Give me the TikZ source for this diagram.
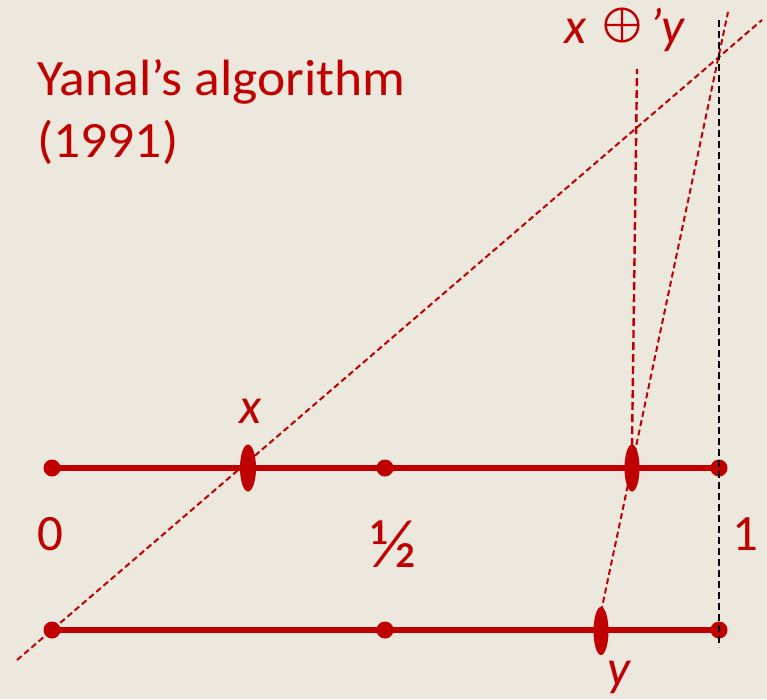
\documentclass[tikz,border=0pt]{standalone}
\usepackage{fontspec}
\setmainfont{Carlito}
\usetikzlibrary{shapes.geometric}
\definecolor{myred}{RGB}{192,0,0}
\definecolor{paper}{RGB}{237,232,221}
\tikzset{
  axisline/.style={draw=myred, line width=6pt},
  dotnode/.style={circle, fill=myred, minimum size=17pt, inner sep=0pt},
  marknode/.style={ellipse, fill=myred, minimum width=16pt, minimum height=47pt, inner sep=0pt},
  reddash/.style={draw=myred, line width=2pt, dash pattern=on 6pt off 3.5pt},
  blackdash/.style={draw=black, line width=2pt, dash pattern=on 7pt off 4pt},
  lbl/.style={text=myred, inner sep=0pt, font=\fontsize{51}{62}\selectfont},
  ilbl/.style={text=myred, inner sep=0pt, font=\fontsize{51}{62}\selectfont\itshape}
}
\begin{document}
\begin{tikzpicture}[x=1pt,y=-1pt]
\fill[paper] (0,0) rectangle (767,699);
\useasboundingbox (0,0) rectangle (767,699);
% coordinates
\coordinate (p0) at (52,468);
\coordinate (ph) at (385,468);
\coordinate (p1) at (719,468);
\coordinate (q0) at (52,630);
\coordinate (qh) at (385,630);
\coordinate (q1) at (719,630);
\coordinate (d1) at (17,660);
\coordinate (d2) at (762,20);
\coordinate (e1) at (601,612);
\coordinate (e2) at (728,12);
\coordinate (s1) at (632,446);
\coordinate (s2) at (637,69);
\coordinate (v1) at (719,20);
\coordinate (v2) at (719,647);
% axes
\draw[axisline] (p0) -- (p1);
\draw[axisline] (q0) -- (q1);
% dashed lines
\draw[reddash] (d1) -- (d2);
\draw[reddash] (e1) -- (e2);
\draw[reddash, line width=2.4pt, dash pattern=on 8pt off 4pt] (s1) -- (s2);
% dots and marks
\node[dotnode] (a0) at (p0) {};
\node[dotnode] (ah) at (ph) {};
\node[dotnode] (a1) at (p1) {};
\node[dotnode] (b0) at (q0) {};
\node[dotnode] (bh) at (qh) {};
\node[dotnode] (b1) at (q1) {};
\node[marknode] (mx) at (248,468) {};
\node[marknode, minimum width=15pt] (mz) at (632,468) {};
\node[marknode, minimum width=15pt, minimum height=48pt] (my) at (601,631) {};
\draw[blackdash] (v1) -- (v2);
% labels
\node[lbl, anchor=base west, xscale=1.05] (t1) at (37,95) {Yanal’s algorithm};
\node[lbl, anchor=base west, xscale=1.05] (t2) at (37,157) {(1991)};
\node[lbl, anchor=base] (l0) at (50,550) {0};
\node[lbl, anchor=center, scale=1.35] (lh) at (393.5,544.5) {½};
\node[lbl, anchor=base] (l1) at (745,550) {1};
\node[ilbl, anchor=base] (lx) at (251,423) {x};
\node[ilbl, anchor=base] (ly) at (619,685) {y};
\node[ilbl, anchor=base] (zx) at (576,43) {x};
\node[text=myred, inner sep=0pt, scale=5.1] (zop) at (622,25) {\special{pdf:literal 2 Tr 0.22 w}$\oplus$\special{pdf:literal 0 Tr}};
\node[ilbl, anchor=base west] (zy) at (649,43) {’y};
\end{tikzpicture}
\end{document}
